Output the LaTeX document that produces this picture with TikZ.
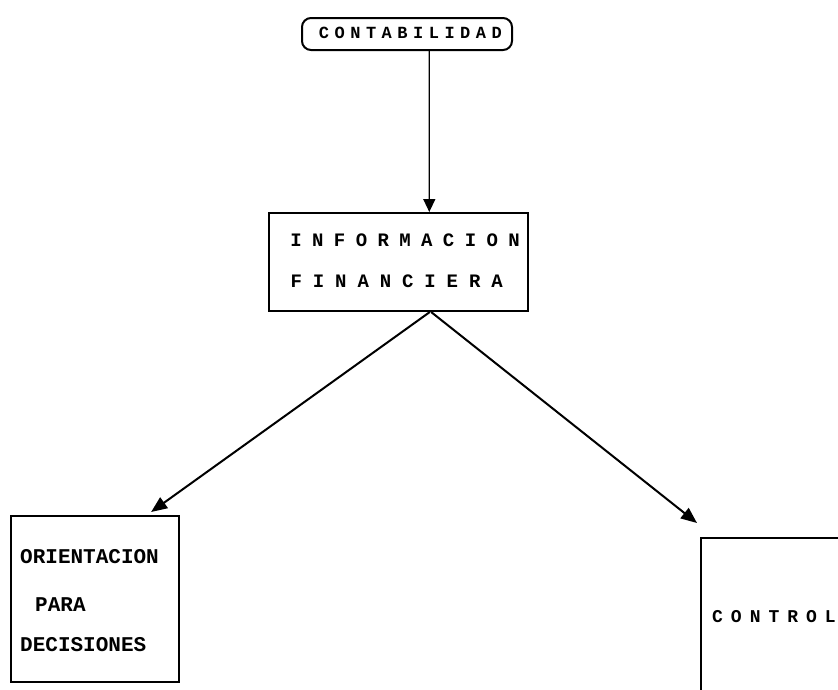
\documentclass[tikz,border=0pt]{standalone}
\usepackage{fontspec}
\setmonofont{Liberation Mono}
\usetikzlibrary{arrows.meta,calc}

% set a word one letter per fixed-width cell
\makeatletter
\newcommand\spacedword[2]{\@tfor\ch:=#2\do{\makebox[#1][c]{\ch}}}
\makeatother

\begin{document}
\begin{tikzpicture}[x=1pt,y=-1pt,
  frame/.style={draw,line width=2pt,inner sep=0pt},
  txt/.style={inner sep=0pt,anchor=west},
  link/.style={line width=2pt,-{Triangle[length=16pt,width=13pt]}},
  thinlink/.style={line width=1.4pt,-{Triangle[length=13pt,width=12pt]}}]
  \useasboundingbox (0,0) rectangle (838,689);
  \clip (0,0) rectangle (838,689);

  % boxes
  \node[frame,rounded corners=9pt,minimum width=210,minimum height=32,anchor=north west] (cont) at (301,17) {};
  \node[frame,minimum width=259,minimum height=98,anchor=north west] (info) at (268,212) {};
  \node[frame,minimum width=168,minimum height=166,anchor=north west] (orient) at (10,515) {};
  \node[frame,minimum width=240,minimum height=200,anchor=north west] (ctl) at (700,537) {};

  % texts
  \node[txt,font=\ttfamily\bfseries\fontsize{17}{17}\selectfont] (contT) at (316,33) {\spacedword{15.7pt}{CONTABILIDAD}};
  \node[txt,font=\ttfamily\bfseries\fontsize{19}{19}\selectfont] (infoA) at (285,240) {\spacedword{21.8pt}{INFORMACION}};
  \node[txt,font=\ttfamily\bfseries\fontsize{19}{19}\selectfont] (infoB) at (285,281) {\spacedword{22.3pt}{FINANCIERA}};
  \node[txt,font=\ttfamily\bfseries\fontsize{21}{21}\selectfont] (oriA) at (20,557) {ORIENTACION};
  \node[txt,font=\ttfamily\bfseries\fontsize{21}{21}\selectfont] (oriB) at (35,605) {PARA};
  \node[txt,font=\ttfamily\bfseries\fontsize{21}{21}\selectfont] (oriC) at (20,645) {DECISIONES};
  \node[txt,font=\ttfamily\bfseries\fontsize{18}{18}\selectfont] (ctlT) at (708,617) {\spacedword{18.8pt}{CONTROL}};

  % connectors
  \draw[thinlink] ($(cont.south west)!0.605!(cont.south east)$) -- ($(info.north west)!0.618!(info.north east)$);
  \draw[link] ($(info.south west)!0.62!(info.south east)$) -- ($(orient.north west)!0.83!(orient.north east)+(0,-3)$);
  \draw[link] ($(info.south west)!0.625!(info.south east)$) -- ($(ctl.north west)+(-3,-14)$);
\end{tikzpicture}
\end{document}
